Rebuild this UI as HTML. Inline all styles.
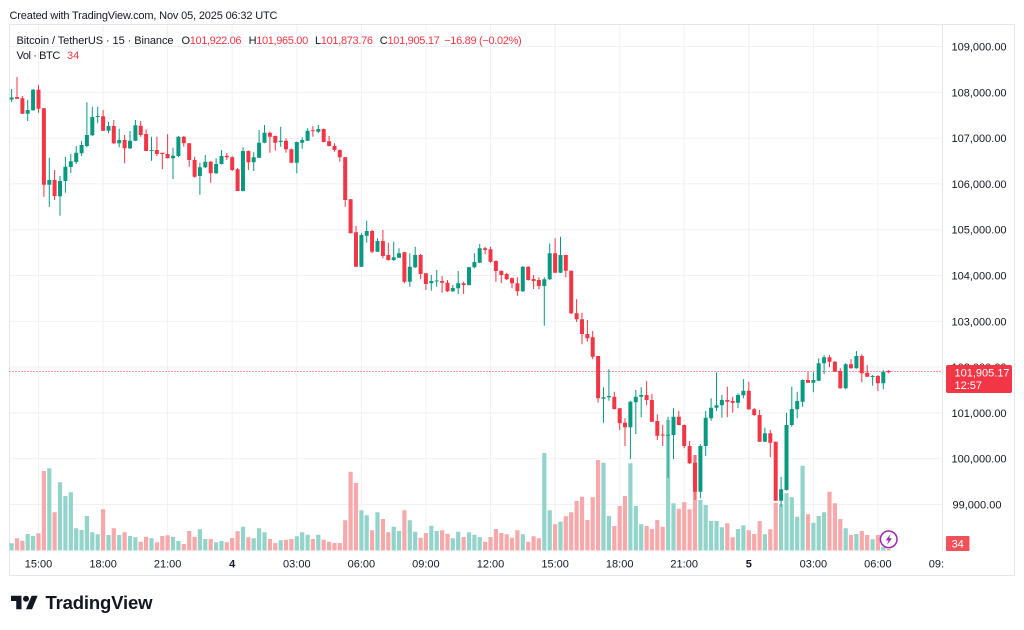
<!DOCTYPE html>
<html><head><meta charset="utf-8"><style>
html,body{margin:0;padding:0;background:#fff;width:1024px;height:630px;overflow:hidden}
svg{display:block;font-family:"Liberation Sans",sans-serif}
</style></head><body>
<svg width="1024" height="630" viewBox="0 0 1024 630" xmlns="http://www.w3.org/2000/svg">
<defs><clipPath id="cp"><rect x="0" y="0" width="944" height="630"/></clipPath></defs>
<rect width="1024" height="630" fill="#fff"/>
<text x="9.5" y="19" font-size="11" fill="#131722" textLength="268">Created with TradingView.com, Nov 05, 2025 06:32 UTC</text>
<!-- grid -->
<g stroke="#f0f1f3" stroke-width="1">
<path d="M9.5 46.5H942M9.5 92.3H942M9.5 138.1H942M9.5 183.9H942M9.5 229.7H942M9.5 275.5H942M9.5 321.3H942M9.5 367.1H942M9.5 412.9H942M9.5 458.7H942M9.5 504.5H942"/>
<path d="M38.5 24.5V551M103.1 24.5V551M167.6 24.5V551M232.2 24.5V551M296.8 24.5V551M361.4 24.5V551M425.9 24.5V551M490.5 24.5V551M555.1 24.5V551M619.7 24.5V551M684.2 24.5V551M748.8 24.5V551M813.4 24.5V551M877.9 24.5V551"/>
</g>
<!-- frame -->
<rect x="9.5" y="24.5" width="1005" height="551" fill="none" stroke="#e6e6ea"/>
<path d="M942.5 24.5V551" stroke="#e6e6ea"/>
<!-- volume -->
<path fill="#92d3ca" d="M9.5 543.3h4.2V550.5h-4.2zM25.6 534h4.2V550.5h-4.2zM31 536h4.2V550.5h-4.2zM47.2 468.3h4.2V550.5h-4.2zM57.9 482.3h4.2V550.5h-4.2zM63.3 496h4.2V550.5h-4.2zM68.7 492.3h4.2V550.5h-4.2zM74.1 528.3h4.2V550.5h-4.2zM79.5 530h4.2V550.5h-4.2zM84.8 516h4.2V550.5h-4.2zM90.2 532.3h4.2V550.5h-4.2zM95.6 534.3h4.2V550.5h-4.2zM106.4 535h4.2V550.5h-4.2zM117.1 535h4.2V550.5h-4.2zM127.9 536h4.2V550.5h-4.2zM133.3 537.3h4.2V550.5h-4.2zM149.4 538.3h4.2V550.5h-4.2zM170.9 536.7h4.2V550.5h-4.2zM176.3 541h4.2V550.5h-4.2zM197.8 529.3h4.2V550.5h-4.2zM203.2 539h4.2V550.5h-4.2zM214 542.3h4.2V550.5h-4.2zM219.4 541h4.2V550.5h-4.2zM240.9 526.7h4.2V550.5h-4.2zM251.6 538.3h4.2V550.5h-4.2zM257 528.3h4.2V550.5h-4.2zM262.4 532.3h4.2V550.5h-4.2zM278.6 540.3h4.2V550.5h-4.2zM294.7 536.3h4.2V550.5h-4.2zM300.1 532.3h4.2V550.5h-4.2zM305.5 534.7h4.2V550.5h-4.2zM316.2 534.7h4.2V550.5h-4.2zM359.3 510.3h4.2V550.5h-4.2zM364.6 515.3h4.2V550.5h-4.2zM375.4 512.3h4.2V550.5h-4.2zM391.6 526.7h4.2V550.5h-4.2zM396.9 531h4.2V550.5h-4.2zM407.7 520.3h4.2V550.5h-4.2zM413.1 531.7h4.2V550.5h-4.2zM429.2 525.7h4.2V550.5h-4.2zM434.6 531h4.2V550.5h-4.2zM450.7 538.3h4.2V550.5h-4.2zM456.1 531.7h4.2V550.5h-4.2zM466.9 532.3h4.2V550.5h-4.2zM472.3 534.7h4.2V550.5h-4.2zM477.6 537h4.2V550.5h-4.2zM520.7 534.3h4.2V550.5h-4.2zM542.2 453h4.2V550.5h-4.2zM547.6 510.3h4.2V550.5h-4.2zM558.4 521.7h4.2V550.5h-4.2zM601.4 462.7h4.2V550.5h-4.2zM606.8 516h4.2V550.5h-4.2zM628.3 463.3h4.2V550.5h-4.2zM633.7 506h4.2V550.5h-4.2zM639.1 524.3h4.2V550.5h-4.2zM666 420h4.2V550.5h-4.2zM671.4 503.3h4.2V550.5h-4.2zM698.3 500h4.2V550.5h-4.2zM703.6 505h4.2V550.5h-4.2zM709 521h4.2V550.5h-4.2zM714.4 521h4.2V550.5h-4.2zM719.8 527.3h4.2V550.5h-4.2zM735.9 529h4.2V550.5h-4.2zM741.3 525.3h4.2V550.5h-4.2zM762.8 534.3h4.2V550.5h-4.2zM779 504.3h4.2V550.5h-4.2zM784.4 493.3h4.2V550.5h-4.2zM789.7 497.3h4.2V550.5h-4.2zM795.1 516.7h4.2V550.5h-4.2zM800.5 465.7h4.2V550.5h-4.2zM811.3 522.7h4.2V550.5h-4.2zM816.6 516h4.2V550.5h-4.2zM822 512.3h4.2V550.5h-4.2zM843.6 528.3h4.2V550.5h-4.2zM854.3 534h4.2V550.5h-4.2zM870.5 539.3h4.2V550.5h-4.2zM881.2 547.3h4.2V550.5h-4.2z"/>
<path fill="#f7a8aa" d="M14.9 538.3h4.2V550.5h-4.2zM20.3 540.7h4.2V550.5h-4.2zM36.4 533.3h4.2V550.5h-4.2zM41.8 471h4.2V550.5h-4.2zM52.5 512.3h4.2V550.5h-4.2zM101 509.3h4.2V550.5h-4.2zM111.7 528.3h4.2V550.5h-4.2zM122.5 532.3h4.2V550.5h-4.2zM138.6 541.7h4.2V550.5h-4.2zM144 536.7h4.2V550.5h-4.2zM154.8 542.3h4.2V550.5h-4.2zM160.2 536h4.2V550.5h-4.2zM165.5 535.3h4.2V550.5h-4.2zM181.7 544h4.2V550.5h-4.2zM187.1 531h4.2V550.5h-4.2zM192.5 536.7h4.2V550.5h-4.2zM208.6 539h4.2V550.5h-4.2zM224.7 542.3h4.2V550.5h-4.2zM230.1 538h4.2V550.5h-4.2zM235.5 531.3h4.2V550.5h-4.2zM246.3 537.3h4.2V550.5h-4.2zM267.8 539h4.2V550.5h-4.2zM273.2 543h4.2V550.5h-4.2zM283.9 539.7h4.2V550.5h-4.2zM289.3 539h4.2V550.5h-4.2zM310.8 539h4.2V550.5h-4.2zM321.6 539.7h4.2V550.5h-4.2zM327 541.7h4.2V550.5h-4.2zM332.4 543h4.2V550.5h-4.2zM337.7 543h4.2V550.5h-4.2zM343.1 520.3h4.2V550.5h-4.2zM348.5 471.7h4.2V550.5h-4.2zM353.9 483h4.2V550.5h-4.2zM370 530.3h4.2V550.5h-4.2zM380.8 519h4.2V550.5h-4.2zM386.2 532.3h4.2V550.5h-4.2zM402.3 510.3h4.2V550.5h-4.2zM418.5 537.7h4.2V550.5h-4.2zM423.8 533h4.2V550.5h-4.2zM440 530.3h4.2V550.5h-4.2zM445.4 533.7h4.2V550.5h-4.2zM461.5 537h4.2V550.5h-4.2zM483 541.7h4.2V550.5h-4.2zM488.4 537h4.2V550.5h-4.2zM493.8 529h4.2V550.5h-4.2zM499.2 533h4.2V550.5h-4.2zM504.6 534.3h4.2V550.5h-4.2zM509.9 537.7h4.2V550.5h-4.2zM515.3 530.3h4.2V550.5h-4.2zM526.1 541.7h4.2V550.5h-4.2zM531.5 536.3h4.2V550.5h-4.2zM536.8 538.3h4.2V550.5h-4.2zM553 524.3h4.2V550.5h-4.2zM563.7 516.3h4.2V550.5h-4.2zM569.1 512.3h4.2V550.5h-4.2zM574.5 501h4.2V550.5h-4.2zM579.9 496.7h4.2V550.5h-4.2zM585.3 520h4.2V550.5h-4.2zM590.6 497.3h4.2V550.5h-4.2zM596 460h4.2V550.5h-4.2zM612.2 526h4.2V550.5h-4.2zM617.6 506h4.2V550.5h-4.2zM622.9 496h4.2V550.5h-4.2zM644.5 526h4.2V550.5h-4.2zM649.8 529h4.2V550.5h-4.2zM655.2 520h4.2V550.5h-4.2zM660.6 526.7h4.2V550.5h-4.2zM676.7 508.7h4.2V550.5h-4.2zM682.1 502.3h4.2V550.5h-4.2zM687.5 509.3h4.2V550.5h-4.2zM692.9 455h4.2V550.5h-4.2zM725.2 523.3h4.2V550.5h-4.2zM730.6 537.3h4.2V550.5h-4.2zM746.7 530.3h4.2V550.5h-4.2zM752.1 534h4.2V550.5h-4.2zM757.5 521h4.2V550.5h-4.2zM768.2 529.3h4.2V550.5h-4.2zM773.6 502.7h4.2V550.5h-4.2zM805.9 514.3h4.2V550.5h-4.2zM827.4 491.7h4.2V550.5h-4.2zM832.8 503.3h4.2V550.5h-4.2zM838.2 519h4.2V550.5h-4.2zM848.9 535h4.2V550.5h-4.2zM859.7 531h4.2V550.5h-4.2zM865.1 535h4.2V550.5h-4.2zM875.8 535h4.2V550.5h-4.2zM886.6 549h4.2V550.5h-4.2z"/>
<!-- last price line -->
<path d="M9.5 371.5H942" stroke="#f23645" stroke-dasharray="1 2" stroke-width="1"/>
<!-- wicks -->
<path fill="none" stroke="#089981" stroke-width="1" d="M11.6 89V102M27.7 100V121M33.1 89V110.7M49.3 157.7V206.7M60 176V215.7M65.4 157V192.7M70.8 154V173M76.2 146V164M81.6 141V156M86.9 102.3V147.3M92.3 106.7V136M97.7 106.7V123.3M108.5 121.7V133.3M119.2 128.7V147.3M130 131V149M135.4 120V141M151.5 136.7V160.7M173 147.7V179M178.4 136V157M199.9 162.7V194.7M205.3 155V168M216.1 158.3V174M221.5 150V164.5M243 147.3V191.5M253.7 152.3V171M259.1 130V158M264.5 125V143.3M280.7 126.7V146.7M296.8 141.5V173.3M302.2 137.3V148.7M307.6 128.3V141M318.3 125V133.3M361.4 233.3V267M366.7 220.7V242.7M377.5 238.3V252M393.7 241.7V261M399 248.3V258M409.8 253.3V286.7M415.2 246.7V268M431.3 275V290.7M436.7 270V286.7M452.8 285V292M458.2 271V294M469 266.7V285.5M474.4 253.3V268.3M479.7 244V263M522.8 266V292M544.3 277.3V325.7M549.7 243.5V280M560.5 236.7V273M603.5 387.3V422.7M608.9 369.3V400.7M630.4 401V459M635.8 390V434M641.2 387.3V417.3M668.1 416.7V477.7M673.5 408.3V459M700.4 444.3V498.3M705.7 411V456M711.1 398.3V420.7M716.5 372.5V411M721.9 395V417.7M738 393.3V408.3M743.4 379.3V398.3M764.9 427.7V442M781.1 476.7V506.7M786.5 412.7V490.5M791.8 386.7V426.7M797.2 391.7V418.3M802.6 379.5V406.7M813.4 372.3V392.3M818.7 358.3V381M824.1 355V374M845.7 363.3V389.3M856.4 351V368.7M872.6 375V385.7M883.3 370V389.3"/>
<path fill="none" stroke="#f23645" stroke-width="1" d="M17 77V99M22.4 96V114M38.5 85V112.7M43.9 108V196.7M54.6 170V200M103.1 110V131M113.8 120V144M124.6 135V163.3M140.7 121V136.7M146.1 129.3V151M156.9 136.7V156M162.3 152.7V169.3M167.6 134.3V158.3M183.8 136V146.7M189.2 143V166.7M194.6 156.7V177.7M210.7 161V182.7M226.8 153V160M232.2 156V171M237.6 168V191M248.4 150.5V170M269.9 131.7V152.7M275.3 135.5V150.7M286 138.3V152.7M291.4 148.5V163M312.9 126V136.7M323.7 128.5V142.5M329.1 136V146.5M334.5 143.3V151.7M339.8 149.5V161.7M345.2 157V206.7M350.6 199V233.5M356 226V267M372.1 230V253.3M382.9 230V258.3M388.3 242.7V260.5M404.4 251.7V283.3M420.6 254V279.3M425.9 273V290M442.1 276V292.7M447.5 280V292M463.6 281.7V294M485.1 246.7V254.3M490.5 246.7V262.7M495.9 260.5V281.7M501.3 270.5V283.3M506.7 272.7V280M512 277.5V288.3M517.4 277.3V295.7M528.2 266.3V280.7M533.6 275V289M538.9 277.3V289.3M555.1 238.3V273M565.8 254.7V277.3M571.2 270.5V314M576.6 299.3V322M582 312.7V344.3M587.4 320V341.7M592.7 331V359.3M598.1 356V402.7M614.3 391.7V409.5M619.7 408V430M625 418.3V446M646.6 381V405M651.9 394V422M657.3 414.3V440M662.7 425V446M678.8 411V425.5M684.2 424.5V448.3M689.6 441V464M695 455V500M727.3 386.7V417.3M732.7 396.7V412.7M748.8 381.7V410M754.2 408V416M759.6 410V442M770.3 430V457.3M775.7 441.5V501M808 371.7V383M829.5 355V367.3M834.9 361V372M840.3 368.3V388.7M851 359.3V368.7M861.8 354.3V382.3M867.2 365V377M877.9 375V391M888.7 370V373.3"/>
<!-- bodies -->
<path fill="#089981" d="M9.6 97.5h4V99.5h-4zM25.7 110h4V113.7h-4zM31.1 89.7h4V110.3h-4zM47.3 180h4V184.7h-4zM58 181h4V196.3h-4zM63.4 166.7h4V181h-4zM68.8 161.3h4V167h-4zM74.2 152.7h4V162h-4zM79.6 145h4V153.3h-4zM84.9 135h4V146h-4zM90.3 117h4V135.3h-4zM95.7 116h4V117h-4zM106.5 126h4V130.7h-4zM117.2 140h4V143.3h-4zM128 140.7h4V148.3h-4zM133.4 125.3h4V140.7h-4zM149.5 150h4V151h-4zM171 155.7h4V158.3h-4zM176.4 136.7h4V156h-4zM197.9 167.3h4V176h-4zM203.3 161.7h4V167.3h-4zM214.1 164h4V173.3h-4zM219.5 156h4V164h-4zM241 151h4V191h-4zM251.7 157.3h4V162.3h-4zM257.1 142.7h4V157.7h-4zM262.5 132.7h4V142.7h-4zM278.7 140.7h4V142h-4zM294.8 142h4V162.7h-4zM300.2 140h4V142.7h-4zM305.6 130.7h4V140.7h-4zM316.3 129h4V131.7h-4zM359.4 235h4V266.7h-4zM364.7 231h4V235.7h-4zM375.5 241h4V251.7h-4zM391.7 257.3h4V260h-4zM397 253.3h4V257.7h-4zM407.8 266.7h4V281.7h-4zM413.2 255h4V267.3h-4zM429.3 281h4V283.3h-4zM434.7 280.5h4V281.5h-4zM450.8 288h4V291.3h-4zM456.2 283.3h4V288.3h-4zM467 267.3h4V285h-4zM472.4 262h4V267.3h-4zM477.7 248.3h4V262.7h-4zM520.8 266.7h4V291.3h-4zM542.3 279.3h4V286h-4zM547.7 253.3h4V279.3h-4zM558.5 255h4V272.7h-4zM601.5 397.3h4V398.7h-4zM606.9 396h4V397.3h-4zM628.4 401.7h4V427.3h-4zM633.8 396.7h4V402.3h-4zM639.2 395h4V396.7h-4zM666.1 434.7h4V435.7h-4zM671.5 416.7h4V435h-4zM698.4 446h4V491.7h-4zM703.7 417.7h4V446h-4zM709.1 407.7h4V418.3h-4zM714.5 405.2h4V407.7h-4zM719.9 400h4V405.3h-4zM736 395h4V402.7h-4zM741.4 390.7h4V395.3h-4zM762.9 433.3h4V441.7h-4zM779.1 489.3h4V500.7h-4zM784.5 425h4V490h-4zM789.8 409h4V425h-4zM795.2 401h4V409.3h-4zM800.6 380h4V401.7h-4zM811.4 380h4V382.7h-4zM816.7 363.3h4V380.7h-4zM822.1 357.3h4V363.3h-4zM843.7 364.3h4V388.3h-4zM854.4 356h4V368.3h-4zM870.6 376h4V377h-4zM881.3 371.7h4V383.3h-4z"/>
<path fill="#f23645" d="M15 97h4V98.7h-4zM20.4 98.3h4V113.7h-4zM36.5 89.7h4V108.7h-4zM41.9 108.3h4V184.7h-4zM52.6 180h4V196h-4zM101.1 116.3h4V130.7h-4zM111.8 126h4V143.3h-4zM122.6 140h4V148.3h-4zM138.7 125.7h4V135h-4zM144.1 134h4V151h-4zM154.9 150h4V154h-4zM160.3 152.7h4V154h-4zM165.6 154h4V158.3h-4zM181.8 136.7h4V143.3h-4zM187.2 143.3h4V160h-4zM192.6 160h4V176.7h-4zM208.7 161.7h4V173.3h-4zM224.8 155.7h4V157.3h-4zM230.2 157.3h4V170h-4zM235.6 169.3h4V191h-4zM246.4 151h4V162.3h-4zM267.9 132.7h4V136.7h-4zM273.3 136h4V142.7h-4zM284 140.7h4V149.3h-4zM289.4 149.3h4V162.7h-4zM310.9 130.3h4V131.3h-4zM321.7 129h4V142h-4zM327.1 141.3h4V146h-4zM332.5 146h4V150h-4zM337.8 150h4V157.3h-4zM343.2 157.3h4V200h-4zM348.6 199.3h4V233.3h-4zM354 232.3h4V266.7h-4zM370.1 231h4V251.7h-4zM380.9 241h4V256h-4zM386.3 255h4V260h-4zM402.4 252.3h4V281.7h-4zM418.6 255h4V274h-4zM423.9 273.3h4V284h-4zM440.1 281h4V282.7h-4zM445.5 282.7h4V291.3h-4zM461.6 283.3h4V285h-4zM483.1 248.3h4V250h-4zM488.5 249.3h4V261.7h-4zM493.9 261h4V271h-4zM499.3 270.7h4V275h-4zM504.7 274h4V279.3h-4zM510 278.3h4V283.3h-4zM515.4 283.3h4V291.3h-4zM526.2 266.7h4V280h-4zM531.6 279h4V281h-4zM536.9 280h4V286h-4zM553.1 253.3h4V272.7h-4zM563.8 255h4V270.7h-4zM569.2 270.7h4V313.3h-4zM574.6 313.3h4V319.3h-4zM580 319.3h4V334h-4zM585.4 334h4V338.3h-4zM590.7 337.3h4V356.7h-4zM596.1 356h4V398.3h-4zM612.3 396.7h4V409h-4zM617.7 408.3h4V423.3h-4zM623 422.7h4V427.3h-4zM644.6 395h4V400h-4zM649.9 400h4V421.7h-4zM655.3 421h4V435.7h-4zM660.7 434.5h4V435.5h-4zM676.8 416.7h4V425h-4zM682.2 425h4V446h-4zM687.6 446h4V463.3h-4zM693 462.7h4V491.7h-4zM725.3 400h4V401.7h-4zM730.7 401h4V402.7h-4zM746.8 390.7h4V409.3h-4zM752.2 409.3h4V415h-4zM757.6 415h4V441.7h-4zM768.3 433.3h4V442.7h-4zM773.7 441.7h4V500.7h-4zM806 380h4V382.7h-4zM827.5 357.3h4V361.7h-4zM832.9 361.7h4V371.7h-4zM838.3 371h4V388.3h-4zM849 364.3h4V368.3h-4zM859.8 356h4V373.3h-4zM865.2 372.7h4V376.7h-4zM875.9 376h4V383.3h-4zM886.7 371h4V372.2h-4z"/>
<!-- legend -->
<g font-size="11" fill="#131722">
<text x="16.5" y="44" textLength="157">Bitcoin / TetherUS · 15 · Binance</text>
<text x="181.5" y="44" textLength="60">O<tspan fill="#f23645">101,922.06</tspan></text>
<text x="248.6" y="44" textLength="59.6">H<tspan fill="#f23645">101,965.00</tspan></text>
<text x="315" y="44" textLength="58">L<tspan fill="#f23645">101,873.76</tspan></text>
<text x="379.8" y="44" textLength="60">C<tspan fill="#f23645">101,905.17</tspan></text>
<text x="444.2" y="44" textLength="77.5" fill="#f23645">−16.89 (−0.02%)</text>
<text x="16.5" y="59" textLength="43.8">Vol · BTC</text>
<text x="67" y="59" fill="#f23645">34</text>
</g>
<!-- price axis -->
<g font-size="11" fill="#131722">
<text x="951.5" y="50.5">109,000.00</text>
<text x="951.5" y="96.3">108,000.00</text>
<text x="951.5" y="142.1">107,000.00</text>
<text x="951.5" y="187.9">106,000.00</text>
<text x="951.5" y="233.7">105,000.00</text>
<text x="951.5" y="279.5">104,000.00</text>
<text x="951.5" y="325.3">103,000.00</text>
<text x="951.5" y="371.1">102,000.00</text>
<text x="951.5" y="416.9">101,000.00</text>
<text x="951.5" y="462.7">100,000.00</text>
<text x="952.5" y="508.5">99,000.00</text>
</g>
<rect x="946" y="365" width="66" height="28" rx="2" fill="#f23645"/>
<text x="954.5" y="376.6" font-size="11" fill="#fff">101,905.17</text>
<text x="954.5" y="388.8" font-size="11" fill="#fff">12:57</text>
<rect x="946" y="536" width="23.5" height="15" rx="1" fill="#f0525a"/>
<text x="957.7" y="547.6" font-size="11" fill="#fff" text-anchor="middle">34</text>
<!-- lightning -->
<circle cx="888.7" cy="539.3" r="8.3" fill="#fff" stroke="#9c27b0" stroke-width="1.5"/>
<path d="M890.6 533.8L885.7 540.4H888.5L887.1 544.8L891.9 538.3H889.1Z" fill="#9c27b0"/>
<!-- time axis -->
<g font-size="11" fill="#131722" text-anchor="middle">
<text x="38.5" y="567.3">15:00</text>
<text x="103.1" y="567.3">18:00</text>
<text x="167.6" y="567.3">21:00</text>
<text x="232.2" y="567.3" font-weight="bold">4</text>
<text x="296.8" y="567.3">03:00</text>
<text x="361.4" y="567.3">06:00</text>
<text x="425.9" y="567.3">09:00</text>
<text x="490.5" y="567.3">12:00</text>
<text x="555.1" y="567.3">15:00</text>
<text x="619.7" y="567.3">18:00</text>
<text x="684.2" y="567.3">21:00</text>
<text x="748.8" y="567.3" font-weight="bold">5</text>
<text x="813.4" y="567.3">03:00</text>
<text x="877.9" y="567.3">06:00</text>
<text x="942.5" y="567.3" clip-path="url(#cp)">09:00</text>
</g>
<!-- logo -->
<svg x="11" y="592.7" width="27" height="21" viewBox="0 0 36 28"><path d="M14 22H7V11H0V4h14v18zM28 22h-8l7.5-18h8L28 22z" fill="#131722"/><circle cx="20" cy="8" r="4" fill="#131722"/></svg>
<text x="45.5" y="609" font-size="18.5" font-weight="bold" fill="#131722" textLength="107">TradingView</text>
</svg>
</body></html>
